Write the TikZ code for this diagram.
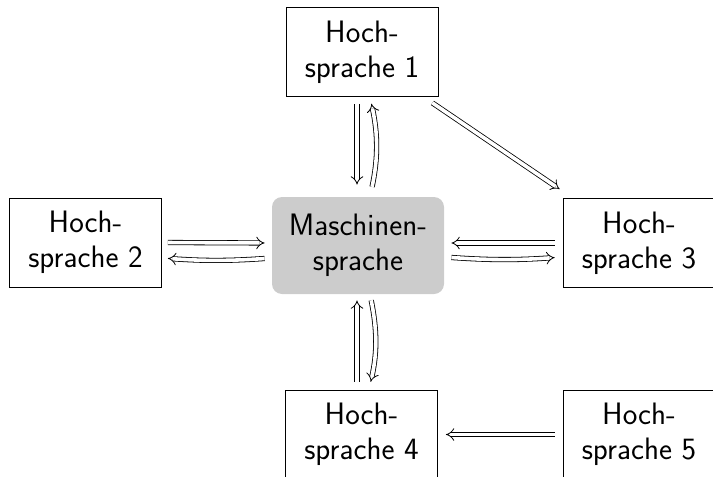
\documentclass[tikz,border=0pt]{standalone}
\usepackage{tikz}
\usetikzlibrary{arrows.meta}

\begin{document}
\begin{tikzpicture}[x=0.5pt,y=-0.5pt,
    lang node/.style={draw, line width=0.4pt, align=center,
      font=\sffamily\fontsize{15.5}{17.5}\selectfont,
      minimum width=76pt, minimum height=44.5pt, inner sep=2pt},
    machine node/.style={lang node, draw=none, fill=gray!40, rounded corners=5pt,
      minimum width=86pt, minimum height=48.5pt},
    trans/.style={draw, double, double distance=1.8pt, line width=0.4pt, -Implies}]
    \useasboundingbox (0,0) rectangle (713,477);

    \node[machine node] (m) at (358,245.5) {Maschinen-\\sprache};
    \node[lang node] (h1) at (362,52) {Hoch-\\sprache 1};
    \node[lang node] (h2) at (85.5,242.5) {Hoch-\\sprache 2};
    \node[lang node] (h3) at (639,243) {Hoch-\\sprache 3};
    \node[lang node] (h4) at (361.5,434.5) {Hoch-\\sprache 4};
    \node[lang node] (h5) at (639,434.5) {Hoch-\\sprache 5};

    \path[every edge/.append style={trans}]
    ([xshift=-2.5pt]h1.south) edge[shorten <=3.5pt, shorten >=6pt] ([xshift=-0.5pt]m.north)
    ([xshift=6pt]m.north) edge[bend right=12, shorten <=5pt, shorten >=3.5pt] ([xshift=4pt]h1.south)
    ([yshift=0pt]h2.east) edge[shorten <=3pt, shorten >=3.5pt] ([yshift=1.25pt]m.west)
    ([yshift=-6.25pt]m.west) edge[bend left=4, shorten <=3.5pt, shorten >=3pt] ([yshift=-7.75pt]h2.east)
    (h3.west) edge[shorten <=4pt, shorten >=3.5pt] ([yshift=1.25pt]m.east)
    ([yshift=-5.75pt]m.east) edge[bend right=4, shorten <=3.5pt, shorten >=4pt] ([yshift=-7pt]h3.west)
    ([xshift=-3pt,yshift=-3pt]h1.south east) edge ([xshift=-1.5pt,yshift=4.5pt]h3.north west)
    ([xshift=6pt]m.south) edge[bend left=12, shorten <=3pt, shorten >=4pt] ([xshift=3.75pt]h4.north)
    ([xshift=-2.25pt]h4.north) edge[shorten <=4pt, shorten >=3pt] ([xshift=-0.5pt]m.south)
    (h5.west) edge[shorten <=4pt, shorten >=4pt] (h4.east);
\end{tikzpicture}
\end{document}
